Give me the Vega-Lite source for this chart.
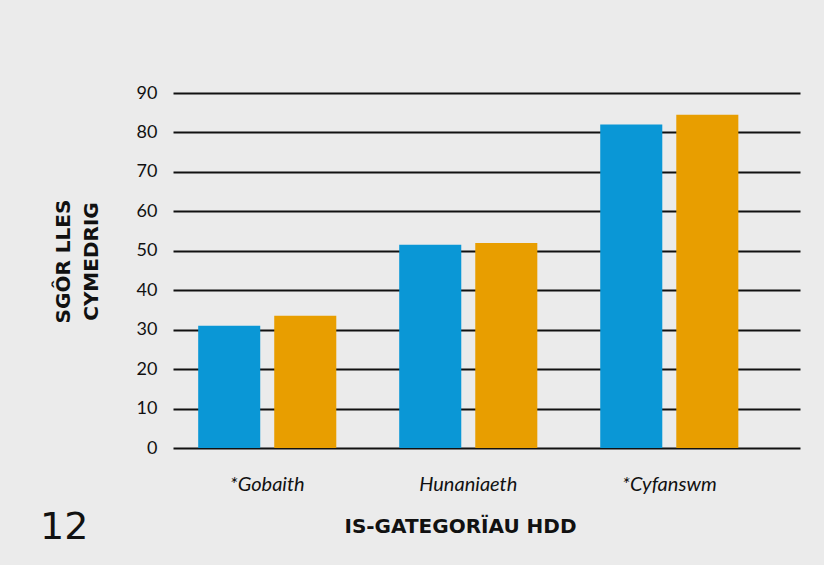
{
  "$schema": "https://vega.github.io/schema/vega-lite/v6.json",
  "width": 627,
  "height": 355,
  "autosize": {"type": "none"},
  "padding": {"left": 173, "top": 93, "right": 24, "bottom": 117},
  "background": "#ebebeb",
  "title": {
    "text": "12",
    "orient": "bottom",
    "anchor": "start",
    "frame": "group",
    "dx": -133,
    "offset": -27,
    "font": "DejaVu Sans",
    "fontSize": 38,
    "fontWeight": "normal",
    "color": "#111111"
  },
  "data": {
    "values": [
      {"category": "*Gobaith", "series": "A", "value": 31},
      {"category": "*Gobaith", "series": "B", "value": 33.5},
      {"category": "Hunaniaeth", "series": "A", "value": 51.5},
      {"category": "Hunaniaeth", "series": "B", "value": 52},
      {"category": "*Cyfanswm", "series": "A", "value": 82},
      {"category": "*Cyfanswm", "series": "B", "value": 84.5}
    ]
  },
  "mark": {"type": "bar"},
  "encoding": {
    "x": {
      "field": "category",
      "type": "nominal",
      "sort": ["*Gobaith", "Hunaniaeth", "*Cyfanswm"],
      "scale": {"paddingInner": 0.313, "paddingOuter": 0.216, "align": 0.29},
      "axis": {
        "title": "IS-GATEGORÏAU HDD",
        "titleFont": "DejaVu Sans",
        "titleFontWeight": "bold",
        "titleFontSize": 20,
        "titleColor": "#111111",
        "titleX": 287,
        "titleY": 68,
        "labelAngle": 0,
        "labelFont": "Lato",
        "labelFontStyle": "italic",
        "labelFontSize": 20,
        "labelColor": "#111111",
        "labelPadding": 26,
        "ticks": false,
        "domain": false
      }
    },
    "xOffset": {
      "field": "series",
      "type": "nominal",
      "scale": {"paddingInner": 0.184}
    },
    "y": {
      "field": "value",
      "type": "quantitative",
      "scale": {"domain": [0, 90]},
      "axis": {
        "values": [0, 10, 20, 30, 40, 50, 60, 70, 80, 90],
        "title": ["SGÔR LLES", "CYMEDRIG"],
        "titleFont": "DejaVu Sans",
        "titleFontWeight": "bold",
        "titleFontSize": 20,
        "titleColor": "#111111",
        "titleX": -100,
        "titleY": 168,
        "titleLineHeight": 28,
        "labelFont": "Lato",
        "labelFontSize": 18,
        "labelColor": "#111111",
        "labelPadding": 16,
        "ticks": false,
        "domain": false,
        "grid": true,
        "gridColor": "#111111",
        "gridWidth": 2,
        "gridOpacity": 1
      }
    },
    "color": {
      "field": "series",
      "type": "nominal",
      "scale": {"domain": ["A", "B"], "range": ["#0A97D6", "#E89E00"]},
      "legend": null
    }
  },
  "config": {
    "view": {"stroke": null}
  }
}
